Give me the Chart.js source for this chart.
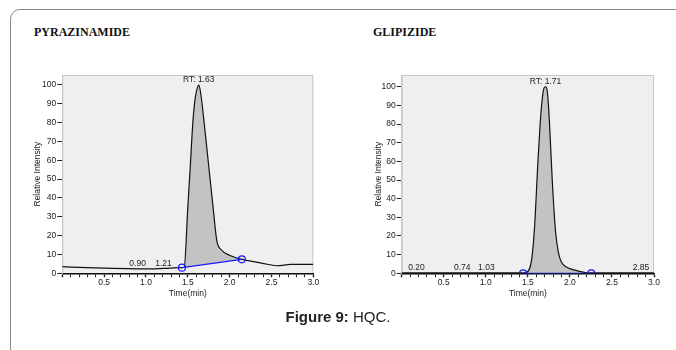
<!DOCTYPE html>
<html>
<head>
<meta charset="utf-8">
<script src="https://cdn.jsdelivr.net/npm/chart.js@4.4.0/dist/chart.umd.min.js"></script>
<style>
  body { margin: 0; background: #fff; width: 676px; height: 350px; overflow: hidden; position: relative; font-family: "Liberation Sans", Arial, sans-serif; }
  .frame { position: absolute; left: 10px; top: 9px; width: 700px; height: 400px; border: 1px solid #8a8a8a; border-top-left-radius: 10px; }
  .title { position: absolute; top: 26px; font: bold 12px/12px "Liberation Serif", "Times New Roman", serif; color: #111; }
  canvas { position: absolute; top: 60px; }
  .caption { position: absolute; left: 0; width: 676px; top: 308px; text-align: center; font-size: 15px; line-height: 18px; color: #222; }
</style>
</head>
<body>
<div class="frame"></div>
<div class="title" style="left:34px">PYRAZINAMIDE</div>
<div class="title" style="left:373px">GLIPIZIDE</div>
<canvas id="pyr" width="320" height="250" style="left:10px"></canvas>
<canvas id="gli" width="320" height="250" style="left:350px"></canvas>
<div class="caption"><b>Figure 9:</b> HQC.</div>
<script>
// Pyrazinamide chromatogram (time in min, relative intensity)
const pyrTime = [0, 0.3, 0.6, 0.9, 1.0, 1.21, 1.43, 1.457, 1.50, 1.53, 1.56, 1.58, 1.60, 1.63, 1.645, 1.665, 1.695, 1.75, 1.80, 1.846, 1.90, 2.0, 2.146, 2.29, 2.45, 2.57, 2.73, 3.0];
const pyrInt  = [3.5, 3.0, 2.6, 2.4, 2.3, 2.6, 3.0, 3.2, 35, 57, 80, 90, 96, 100, 98, 92, 80, 57, 36, 17.5, 12.5, 9.6, 7.4, 6.2, 4.8, 4.0, 4.7, 4.7];
const pyrBaseTime = [1.43, 2.146];
const pyrBaseInt  = [3.0, 7.4];
const pyrLabelTime = [0.90, 1.21, 1.63];
const pyrLabelInt  = [2.4, 2.6, 100];
const pyrLabelText = ['0.90', '1.21', 'RT: 1.63'];

// Glipizide chromatogram
const gliTime = [0, 0.2, 0.5, 0.74, 1.03, 1.3, 1.443, 1.487, 1.547, 1.58, 1.62, 1.646, 1.67, 1.69, 1.71, 1.73, 1.745, 1.758, 1.79, 1.83, 1.866, 1.90, 1.926, 2.0, 2.1, 2.2, 2.254, 2.5, 2.85, 3.0];
const gliInt  = [0.2, 0.2, 0.2, 0.2, 0.2, 0.2, 0.2, 0.5, 8, 25, 60, 80, 93, 99, 100, 98, 90, 80, 50, 22, 10.6, 6, 4.4, 2.5, 1.2, 0.3, 0.2, 0.2, 0.2, 0.2];
const gliBaseTime = [1.443, 2.254];
const gliBaseInt  = [0, 0];
const gliLabelTime = [0.175, 0.72, 1.007, 1.71, 2.845];
const gliLabelInt  = [0.2, 0.2, 0.2, 100, 0.2];
const gliLabelText = ['0.20', '0.74', '1.03', 'RT: 1.71', '2.85'];

const FONT = { family: '"Liberation Sans", Arial, sans-serif', size: 8.5 };

const toPoints = (xs, ys) => xs.map((x, i) => ({ x: x, y: ys[i] }));

const plotBox = {
  id: 'plotBox',
  beforeDraw(chart) {
    const { ctx, chartArea: a } = chart;
    ctx.save();
    ctx.fillStyle = '#efefef';
    ctx.fillRect(a.left, a.top, a.width, a.height);
    ctx.strokeStyle = '#c8c8c8';
    ctx.lineWidth = 1;
    ctx.strokeRect(a.left + 0.5, a.top + 0.5, a.width - 1, a.height);
    ctx.restore();
  }
};

const peakLabels = {
  id: 'peakLabels',
  afterDatasetsDraw(chart, args, opts) {
    const { ctx, scales } = chart;
    ctx.save();
    ctx.font = FONT.size + 'px ' + FONT.family;
    ctx.fillStyle = '#222';
    ctx.textAlign = 'center';
    ctx.textBaseline = 'alphabetic';
    opts.times.forEach((t, i) => {
      const px = scales.x.getPixelForValue(t);
      const py = scales.y.getPixelForValue(opts.values[i]);
      ctx.fillText(opts.texts[i], px, py - 2.5);
    });
    ctx.restore();
  }
};

function makeChart(id, time, inten, baseTime, baseInt, labT, labI, labS, box) {
  const from = baseTime[0], to = baseTime[baseTime.length - 1];
  const peakPts = toPoints(time, inten).filter(p => p.x >= from && p.x <= to);
  return new Chart(document.getElementById(id), {
    type: 'line',
    data: {
      datasets: [
        {
          data: toPoints(time, inten),
          borderColor: '#111',
          borderWidth: 1.2,
          pointRadius: 0,
          cubicInterpolationMode: 'monotone',
          fill: false,
          order: 2
        },
        {
          data: peakPts,
          borderWidth: 0,
          borderColor: 'rgba(0,0,0,0)',
          backgroundColor: '#c3c3c3',
          pointRadius: 0,
          cubicInterpolationMode: 'monotone',
          fill: '+1',
          order: 3
        },
        {
          data: toPoints(baseTime, baseInt),
          borderColor: '#1a1aff',
          borderWidth: 1.2,
          pointRadius: 3.5,
          pointBorderWidth: 1.2,
          pointBorderColor: '#1a1aff',
          pointBackgroundColor: 'rgba(0,0,0,0)',
          fill: false,
          order: 1
        }
      ]
    },
    options: {
      responsive: false,
      animation: false,
      layout: { padding: { top: 15, right: box.right, left: 0, bottom: 0 } },
      plugins: {
        legend: { display: false },
        tooltip: { enabled: false },
        peakLabels: { times: labT, values: labI, texts: labS }
      },
      scales: {
        x: {
          type: 'linear',
          min: 0,
          max: 3.0,
          afterFit: s => { s.height = 36.7; },
          border: { color: '#111', width: 1.5 },
          grid: {
            drawOnChartArea: false,
            tickLength: 4,
            tickColor: '#222',
            tickWidth: c => (Math.abs(c.tick.value * 2 - Math.round(c.tick.value * 2)) < 1e-6 ? 1.4 : 1)
          },
          ticks: {
            stepSize: 0.1,
            autoSkip: false,
            maxRotation: 0,
            padding: 0,
            color: '#222',
            font: FONT,
            callback: v => (v > 0 && Math.abs(v * 2 - Math.round(v * 2)) < 1e-6 ? v.toFixed(1) : '')
          },
          title: { display: true, text: 'Time(min)', color: '#222', font: FONT, padding: { top: 0, bottom: 11 } }
        },
        y: {
          min: 0,
          max: box.ymax,
          afterFit: s => { s.width = box.left; },
          afterBuildTicks: s => { s.ticks = s.ticks.filter(t => t.value <= 100); },
          border: { color: '#c8c8c8', width: 1 },
          grid: { drawOnChartArea: false, tickLength: 5, tickColor: '#222' },
          ticks: { stepSize: 10, padding: 1, color: '#222', font: FONT },
          title: { display: true, text: 'Relative Intensity', color: '#222', font: FONT, padding: { top: box.ytitle, bottom: 0 } }
        }
      }
    },
    plugins: [plotBox, peakLabels]
  });
}

makeChart('pyr', pyrTime, pyrInt, pyrBaseTime, pyrBaseInt, pyrLabelTime, pyrLabelInt, pyrLabelText,
  { left: 52.3, right: 16.7, ymax: 105.3, ytitle: 22.4 });
makeChart('gli', gliTime, gliInt, gliBaseTime, gliBaseInt, gliLabelTime, gliLabelInt, gliLabelText,
  { left: 51.7, right: 16, ymax: 106.3, ytitle: 23.2 });
</script>
</body>
</html>
